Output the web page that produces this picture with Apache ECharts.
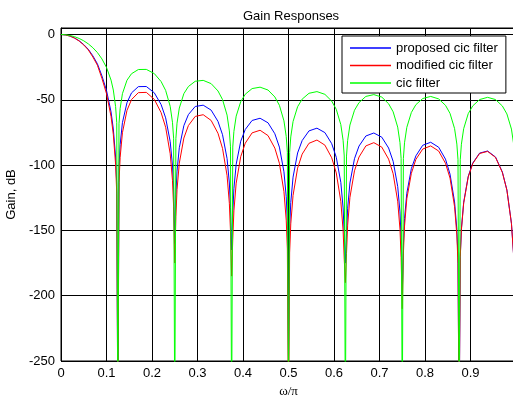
<!DOCTYPE html>
<html>
<head>
<meta charset="utf-8">
<script src="https://cdn.jsdelivr.net/npm/echarts@6/dist/echarts.min.js"></script>
<style>
html,body{margin:0;padding:0;background:#fff;}
#chart{width:513px;height:396px;}
</style>
</head>
<body>
<div id="chart"></div>
<script>
const titleText = 'Gain Responses';
const xName = 'ω/π';
const yName = 'Gain, dB';
const seriesNames = ['proposed cic filter', 'modified cic filter', 'cic filter'];

const freq = [0,0.01,0.02,0.03,0.04,0.05,0.06,0.07,0.08,0.09,0.1,0.11,0.115,0.12,0.1225,0.125,
 0.1275,0.13,0.135,0.145,0.155,0.17,0.1875,0.205,0.22,0.23,0.24,0.245,0.2475,0.25,
 0.2525,0.255,0.26,0.27,0.28,0.295,0.3125,0.33,0.345,0.355,0.365,0.37,0.3725,0.375,
 0.3775,0.38,0.385,0.395,0.405,0.42,0.4375,0.455,0.47,0.48,0.49,0.495,0.4975,0.5,
 0.5025,0.505,0.51,0.52,0.53,0.545,0.5625,0.58,0.595,0.605,0.615,0.62,0.6225,0.625,
 0.6275,0.63,0.635,0.645,0.655,0.67,0.6875,0.705,0.72,0.73,0.74,0.745,0.7475,0.75,
 0.7525,0.755,0.76,0.77,0.78,0.795,0.8125,0.83,0.845,0.855,0.865,0.87,0.8725,0.875,
 0.8775,0.88,0.885,0.895,0.905,0.92,0.9375,0.955,0.97,0.98,0.99,0.995,0.9975,1.0];

const proposed = [0,-0.3,-1.2,-2.7,-4.8,-7.7,-11.3,-16.3,-22.4,-31.7,-42.8,-59.3,-72.3,-93.8,-114.8,-300,
 -101.6,-84.3,-67.5,-52.2,-44.7,-39.9,-39.8,-44.6,-53.6,-63.8,-82.0,-100.1,-118.3,-160,
 -122.7,-104.6,-86.7,-69.8,-61.3,-55.1,-54.1,-57.9,-66.5,-76.7,-95.0,-113.7,-132.4,-165,
 -137.1,-118.0,-99.4,-81.7,-72.7,-65.8,-64.1,-67.6,-76.0,-86.2,-105.1,-124.2,-143.4,-250,
 -148.1,-128.6,-109.2,-90.7,-81.2,-73.8,-71.7,-75.1,-83.6,-94.0,-113.2,-132.8,-152.5,-175,
 -152.7,-133.0,-113.7,-95.1,-85.4,-77.7,-75.4,-78.6,-86.9,-97.1,-116.3,-135.8,-155.6,-200,
 -161.3,-140.9,-121.6,-102.7,-92.9,-84.8,-82.5,-86.3,-95.4,-106.9,-128.2,-149.3,-170.7,-300,
 -170.0,-148.8,-128.5,-108.6,-98.4,-90.8,-89.2,-93.8,-105.3,-119.0,-144.5,-170.0,-196.0,-300];

const modified = [0,-0.3,-1.2,-2.8,-5.0,-8.0,-11.8,-17.2,-23.5,-33.6,-45.3,-62.8,-76.5,-99.4,-121.5,-300,
 -113.2,-94.0,-75.2,-58.1,-49.8,-44.5,-44.3,-49.6,-59.8,-71.0,-91.3,-111.6,-131.8,-175,
 -139.5,-118.8,-98.5,-79.3,-69.7,-62.7,-61.4,-65.8,-75.6,-87.2,-108.0,-129.2,-150.5,-185,
 -156.9,-135.0,-113.8,-93.5,-83.2,-75.3,-73.3,-77.4,-87.0,-98.6,-120.3,-142.1,-164.2,-300,
 -167.1,-145.0,-123.2,-102.3,-91.6,-83.3,-80.8,-84.7,-94.4,-106.0,-127.7,-149.9,-172.1,-190,
 -167.6,-146.0,-124.7,-104.4,-93.8,-85.3,-82.8,-86.2,-95.4,-106.6,-127.6,-149.0,-170.8,-210,
 -168.0,-146.7,-125.8,-106.3,-95.6,-87.7,-85.3,-89.2,-98.6,-109.9,-131.8,-153.5,-175.5,-300,
 -170.7,-149.5,-129.1,-109.1,-98.8,-91.1,-89.5,-94.1,-105.6,-119.2,-144.8,-170.3,-196.5,-300];

const cic = [0,-0.18,-0.73,-1.67,-3.02,-4.82,-7.15,-10.1,-13.8,-18.7,-25.2,-34.9,-42.5,-55.2,-67.5,-300,
 -68.2,-56.6,-45.3,-35.0,-30.0,-26.8,-26.7,-29.9,-36.0,-42.8,-55.0,-67.2,-79.4,-300,
 -79.7,-67.9,-56.3,-45.3,-39.8,-35.8,-35.1,-37.6,-43.2,-49.8,-61.7,-73.8,-86.0,-300,
 -86.2,-74.2,-62.5,-51.4,-45.7,-41.4,-40.3,-42.5,-47.8,-54.2,-66.1,-78.1,-90.2,-300,
 -90.3,-78.4,-66.6,-55.3,-49.5,-45.0,-43.7,-45.8,-51.0,-57.3,-69.0,-81.0,-93.0,-300,
 -93.1,-81.1,-69.3,-58.0,-52.1,-47.4,-46.0,-47.9,-53.0,-59.2,-70.9,-82.8,-94.9,-300,
 -94.9,-82.9,-71.1,-59.7,-53.7,-49.0,-47.4,-49.3,-54.2,-60.4,-72.0,-83.9,-95.9,-300,
 -95.9,-84.0,-72.1,-60.6,-54.6,-49.8,-48.1,-49.8,-54.7,-60.8,-72.4,-84.3,-96.3,-300];

const xTicks = [0,0.1,0.2,0.3,0.4,0.5,0.6,0.7,0.8,0.9];
const yTicks = [-250,-200,-150,-100,-50,0];
const colors = ['#0000ff', '#ff0000', '#00ff00'];

const FONT = '"Liberation Sans", Arial, Helvetica, sans-serif';
const zip = (vals) => freq.map((f, i) => [f, vals[i]]);
const seriesData = [proposed, modified, cic];
// legend glyph: a thin bar in the middle of a 41x14 box (tiny corner specks fix the box size)
const legendGlyph = 'path://M0,0L0.01,0L0,0.01Z M0,6.3L41,6.3L41,7.7L0,7.7Z M41,14L40.99,14L41,13.99Z';

const chart = echarts.init(document.getElementById('chart'), null, {renderer: 'canvas'});
chart.setOption({
  animation: false,
  backgroundColor: '#ffffff',
  title: {
    text: titleText, left: 238, top: 5,
    textStyle: {fontFamily: FONT, fontSize: 13, fontWeight: 'normal', color: '#000'}
  },
  legend: {
    orient: 'vertical', left: 342, top: 36,
    backgroundColor: '#ffffff', borderColor: '#000', borderWidth: 1,
    padding: [5, 8, 3, 8], itemWidth: 41, itemHeight: 14, itemGap: 3.5,
    textStyle: {fontFamily: FONT, fontSize: 13, lineHeight: 14, color: '#000'},
    data: seriesNames.map((n, i) => ({
      name: n, icon: legendGlyph,
      itemStyle: {color: colors[i], borderColor: colors[i], borderWidth: 0, opacity: 1}
    }))
  },
  grid: {left: 61, top: 28, right: -3, bottom: 35, show: true, borderColor: '#000', borderWidth: 1, backgroundColor: '#fff', containLabel: false, outerBoundsMode: 'none'},
  xAxis: {
    type: 'value', min: 0, max: 1, interval: 0.1,
    name: xName, nameLocation: 'middle', nameGap: 21,
    nameTextStyle: {fontFamily: '"Liberation Serif", "Times New Roman", serif', fontSize: 13, color: '#000'},
    axisLine: {show: true, lineStyle: {color: '#000', width: 1}},
    axisTick: {show: false},
    axisLabel: {
      margin: 6, fontFamily: FONT, fontSize: 13, color: '#000',
      formatter: (v) => { const r = Math.round(v * 10) / 10; return xTicks.indexOf(r) >= 0 ? String(r) : ''; }
    },
    splitLine: {show: true, lineStyle: {color: '#000', width: 1}}
  },
  yAxis: {
    type: 'value', min: -250, max: 5, interval: 50,
    name: yName, nameLocation: 'middle', nameGap: 37, nameRotate: 90,
    nameTextStyle: {fontFamily: FONT, fontSize: 13, color: '#000'},
    axisLine: {show: true, lineStyle: {color: '#000', width: 1}},
    axisTick: {show: false},
    axisLabel: {
      margin: 6, fontFamily: FONT, fontSize: 13, color: '#000',
      formatter: (v) => yTicks.indexOf(v) >= 0 ? String(v) : ''
    },
    splitLine: {show: true, lineStyle: {color: '#000', width: 1}}
  },
  series: seriesNames.map((name, i) => ({
    name: name, type: 'line', data: zip(seriesData[i]),
    symbol: 'none', showSymbol: false, smooth: false, clip: true,
    color: colors[i],
    lineStyle: {color: colors[i], width: 1},
    emphasis: {disabled: true}
  }))
});
</script>
</body>
</html>
